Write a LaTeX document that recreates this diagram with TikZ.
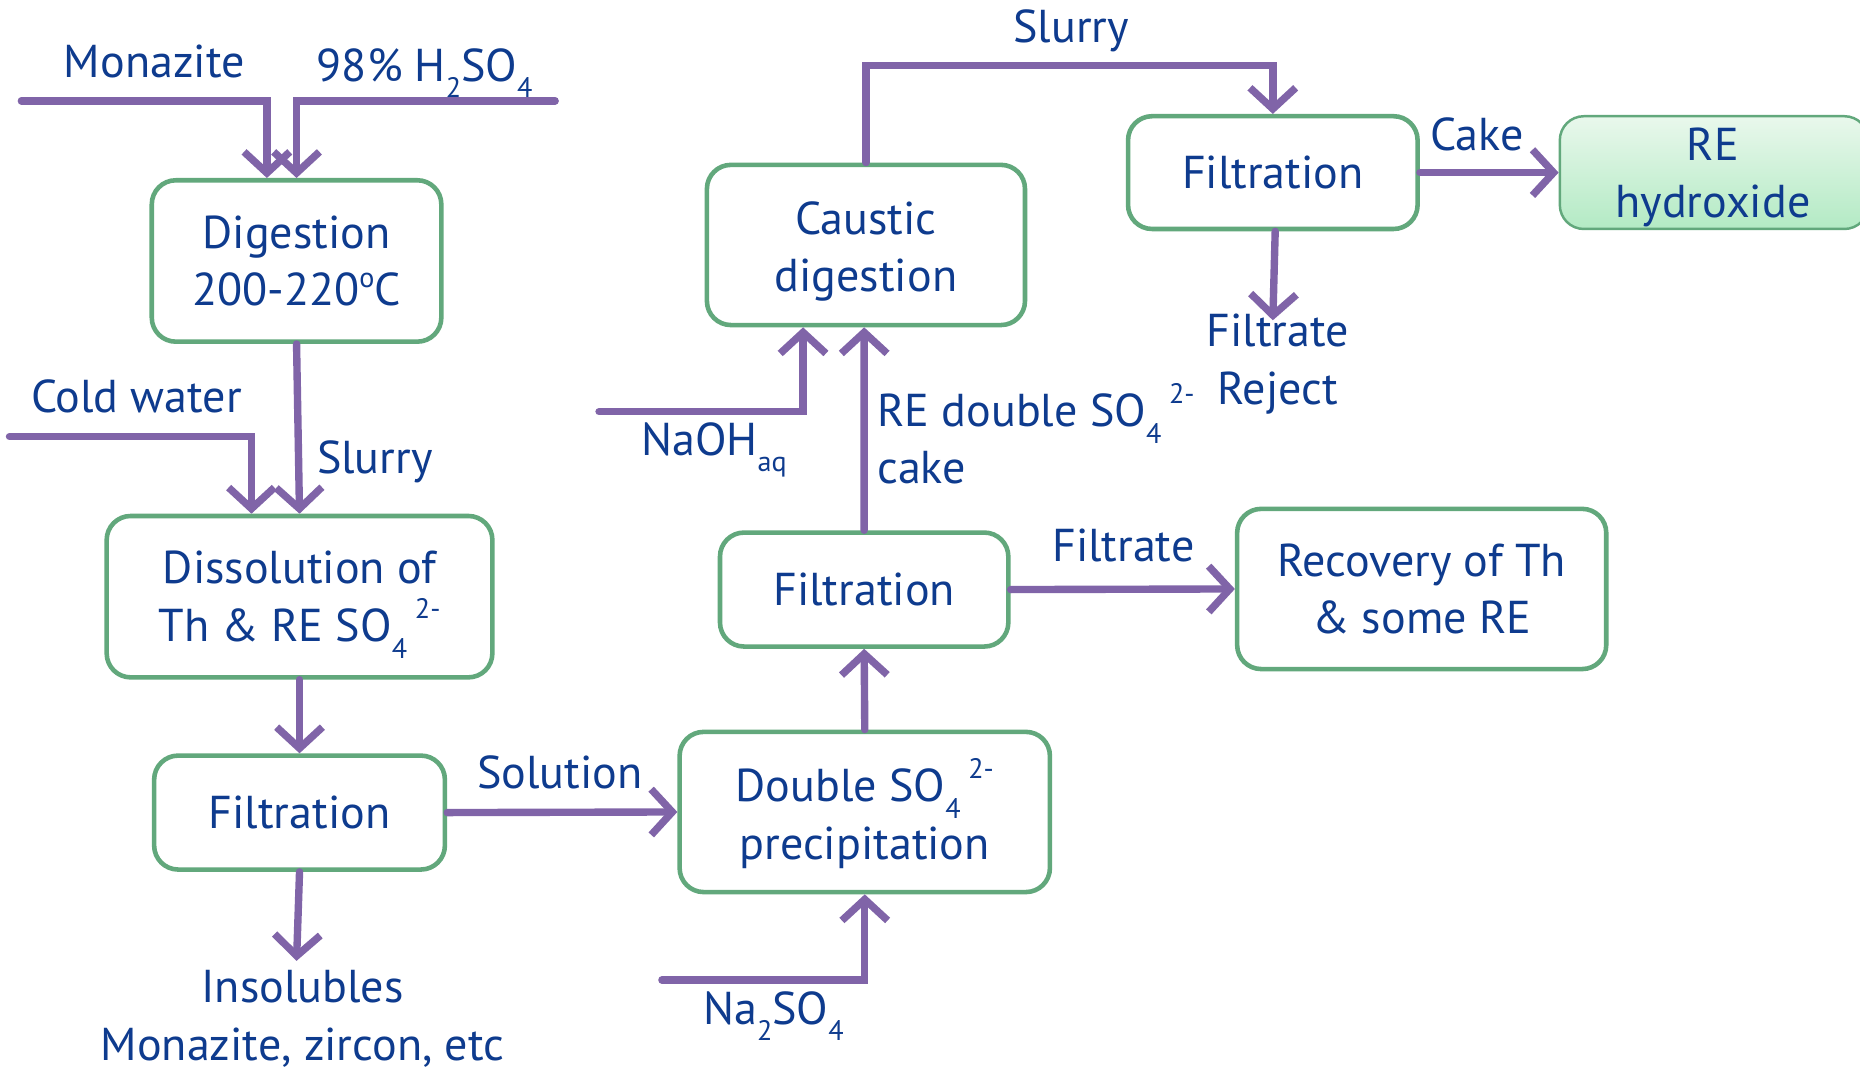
\documentclass[tikz,border=0pt]{standalone}
\usepackage{fontspec}
\setmainfont{PT Sans}
\usetikzlibrary{arrows.meta,calc}
\definecolor{txt}{HTML}{0E3B8E}
\definecolor{arrc}{HTML}{8064A8}
\definecolor{boxc}{HTML}{62A87C}
\definecolor{hyTop}{HTML}{E9F8EC}
\definecolor{hyBot}{HTML}{B3EAC4}
\newcommand\mysub[1]{\smash{\raisebox{-0.7ex}{\footnotesize #1}}}
\newcommand\sofourion{SO\makebox[0pt][l]{\smash{\raisebox{-0.75ex}{\footnotesize 4}}}\hspace{0.5em}\smash{\raisebox{1.0ex}{\footnotesize 2-}}}
\tikzset{
  every node/.append style={font=\fontsize{13.1}{16.4}\selectfont, text=txt},
  procbox/.style={draw=boxc, line width=1.3pt, rounded corners=0.24cm, fill=white,
    align=center, inner sep=0pt},
  arr/.style={draw=arrc, line width=2.1pt, line cap=round,
    -{Straight Barb[length=6pt,width=13pt]}},
  lbl/.style={inner sep=0pt, align=center}
}
\begin{document}
\begin{tikzpicture}[x=0.011862cm, y=-0.011862cm]
\clip (0,0) rectangle (1568,902);
\fill[white] (0,0) rectangle (1568,902);

% boxes
\node[procbox, minimum width=2.894cm, minimum height=1.613cm] (dig) at (250,220) {Digestion\\200-220\smash{\raisebox{0.8ex}{\footnotesize o}}C};
\node[procbox, minimum width=3.855cm, minimum height=1.613cm] (diss) at (252.5,503) {Dissolution of\\Th \& RE \sofourion};
\node[procbox, minimum width=2.906cm, minimum height=1.139cm] (filtA) at (252.5,685) {Filtration};
\node[procbox, minimum width=3.701cm, minimum height=1.601cm] (dbl) at (729,684.5) {\rule{0pt}{13pt}Double \sofourion\\precipitation};
\node[procbox, minimum width=2.882cm, minimum height=1.139cm] (filtB) at (728.5,497) {Filtration};
\node[procbox, minimum width=3.689cm, minimum height=1.601cm] (rec) at (1198.5,496.5) {Recovery of Th\\\& some RE};
\node[procbox, minimum width=3.179cm, minimum height=1.601cm] (caus) at (730,206.5) {\rule{0pt}{13pt}Caustic\\digestion};
\node[procbox, minimum width=2.894cm, minimum height=1.127cm] (filtC) at (1073,145.5) {Filtration};
\node[draw=boxc, line width=0.7pt, rounded corners=0.24cm, top color=hyTop, bottom color=hyBot,
  align=center, inner sep=0pt, minimum width=3.084cm, minimum height=1.127cm] (rehy) at (1445,145.5) {\phantom{hydroxide}};
\node[lbl] (rehyt) at (1444,149.5) {RE\\hydroxide};

% free ends
\coordinate (monS) at (18,85);
\coordinate (acS) at (468,85);
\coordinate (cwS) at (8,368);
\coordinate (insE) at (250,810);
\coordinate (naS) at (558,826);
\coordinate (ohS) at (505,347);
\coordinate (rejE) at (1073,270);

% connectors
\draw[arr] (monS) -| ($(dig.north)+(-25,0)$);
\draw[arr] (acS) -| (dig.north);
\draw[arr] (dig.south) -- (diss.north);
\draw[arr] (cwS) -| ($(diss.north)+(-40.5,0)$);
\draw[arr] (diss.south) -- (filtA.north);
\draw[arr] (filtA.south) -- (insE);
\draw[arr] (filtA.east) -- (dbl.west);
\draw[arr] (naS) -| (dbl.south);
\draw[arr] (dbl.north) -- (filtB.south);
\draw[arr] (filtB.east) -- (rec.west);
\draw[arr] (filtB.north) -- ($(caus.south)+(-1.5,0)$);
\draw[arr] (ohS) -| ($(caus.south)+(-53,0)$);
\draw[arr] (caus.north) -- ++(0,-82) -| (filtC.north);
\draw[arr] (filtC.east) -- (rehy.west);
\draw[arr] ($(filtC.south)+(2,0)$) -- (rejE);

% labels
\node[lbl] (lMon) at (130,52) {Monazite};
\node[lbl] (lAc) at (358,55) {98\% H\mysub{2}SO\mysub{4}};
\node[lbl] (lCw) at (115,334) {Cold water};
\node[lbl] (lSl1) at (316,389) {Slurry};
\node[lbl] (lSol) at (472,651) {Solution};
\node[lbl] (lIns) at (255,859) {Insolubles\\Monazite, zircon, etc};
\node[lbl] (lNa) at (652,850) {Na\mysub{2}SO\mysub{4}};
\node[lbl] (lOH) at (602,370) {NaOH\mysub{aq}};
\node[lbl, anchor=west, align=left] (lRE) at (739,370) {RE double \sofourion\\cake};
\node[lbl] (lSl2) at (903,26) {Slurry};
\node[lbl] (lCake) at (1245,113) {Cake};
\node[lbl] (lFt) at (947,460) {Filtrate};
\node[lbl] (lRej) at (1077,307) {Filtrate\\Reject};
\end{tikzpicture}
\end{document}
